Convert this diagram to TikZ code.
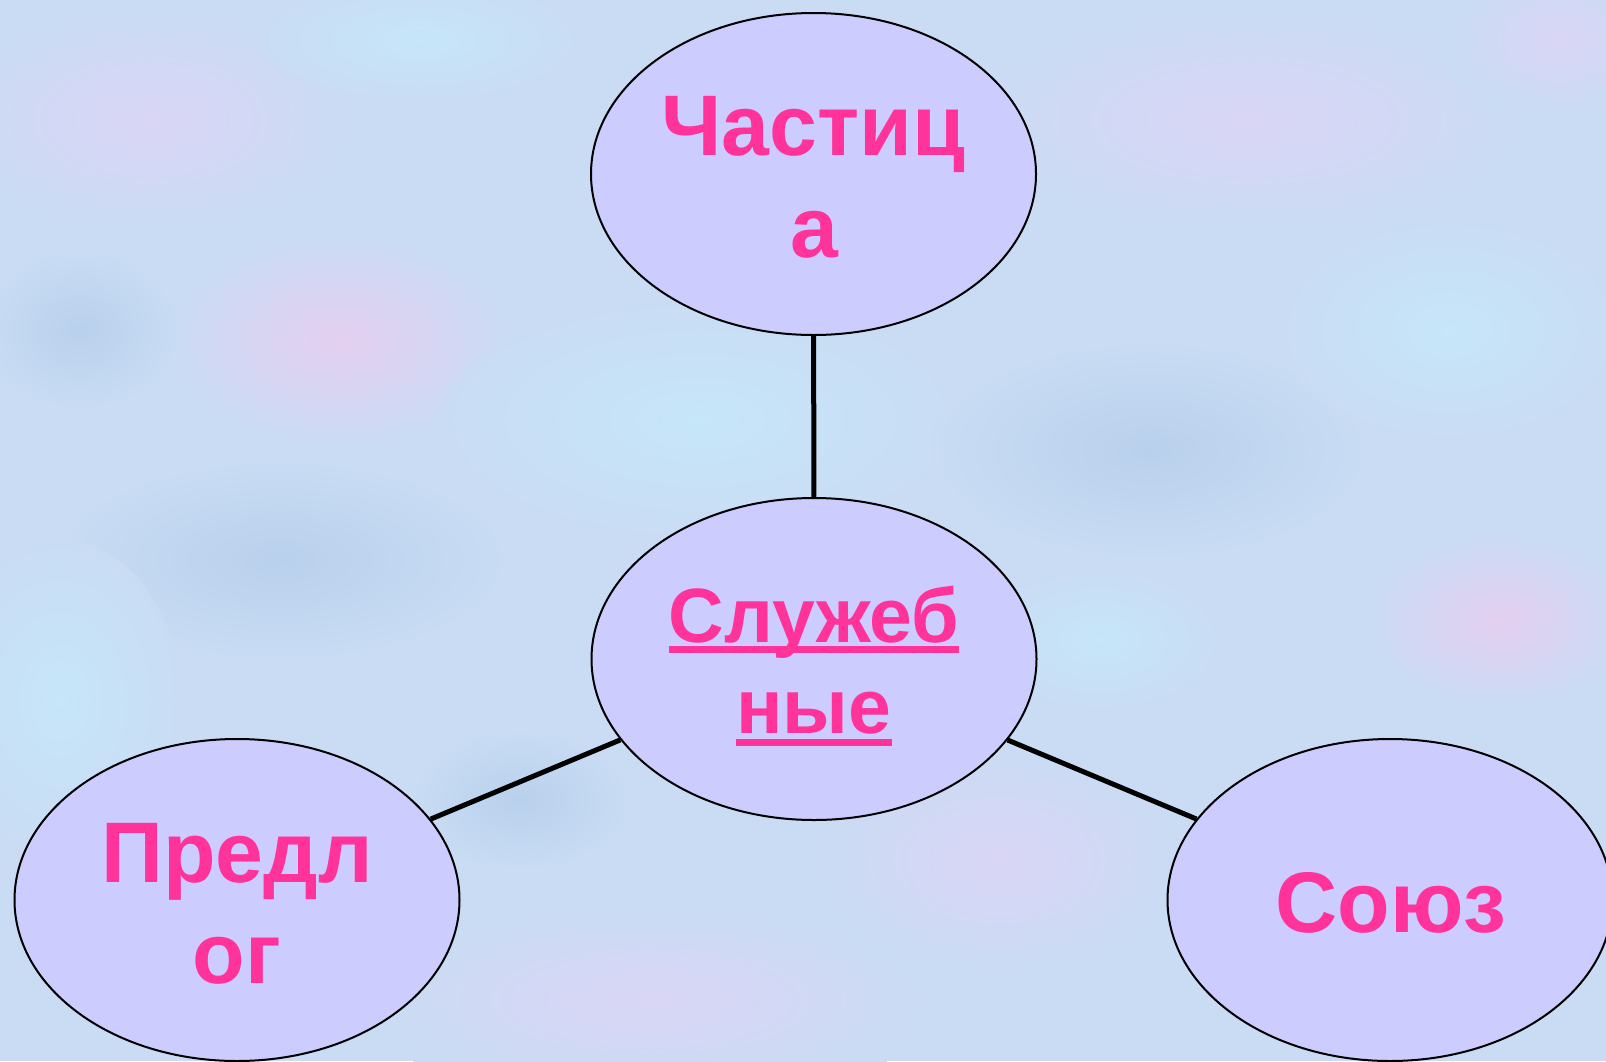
\documentclass[tikz,border=0pt]{standalone}
\usepackage{fontspec}
\setmainfont{Liberation Sans}
\usetikzlibrary{shapes.geometric}
\definecolor{bgbase}{HTML}{C9DCF4}
\definecolor{bglav}{HTML}{D9D5F5}
\definecolor{bgpink}{HTML}{E4CFF1}
\definecolor{bgcyan}{HTML}{C6E6F9}
\definecolor{bgblue}{HTML}{B9D0EC}
\definecolor{ellfill}{HTML}{CCCCFF}
\definecolor{txtpink}{HTML}{FF3399}
\begin{document}
\begin{tikzpicture}[x=1pt,y=-1pt,
  oval/.style={ellipse, draw=black, line width=2pt, fill=ellfill,
    minimum width=445pt, minimum height=322pt, inner sep=0pt},
  lblbig/.style={text=txtpink, font=\bfseries\fontsize{86}{102}\selectfont,
    inner sep=0pt, anchor=base},
  lblsm/.style={text=txtpink, font=\bfseries\fontsize{77}{91}\selectfont,
    inner sep=0pt, anchor=base},
  conn/.style={line width=5pt, draw=black},
  blob/.style={inner color=#1, outer color=bgbase}]
\clip (0,0) rectangle (1606,1061);
\fill[bgbase] (0,0) rectangle (1606,1061);
% mottled background
\shade[blob=bgpink] (340,340) ellipse (180 and 110);
\shade[blob=bglav] (150,120) ellipse (220 and 120);
\shade[blob=bgcyan] (700,420) ellipse (260 and 120);
\shade[blob=bglav] (1250,120) ellipse (300 and 120);
\shade[blob=bgblue] (1150,450) ellipse (220 and 110);
\shade[blob=bgcyan] (1450,330) ellipse (170 and 110);
\shade[blob=bglav] (650,1000) ellipse (300 and 100);
\shade[blob=bgblue] (280,560) ellipse (230 and 100);
\shade[blob=bgcyan] (60,700) ellipse (120 and 160);
\shade[blob=bglav] (1000,860) ellipse (200 and 120);
\shade[blob=bgpink] (1500,620) ellipse (140 and 90);
\shade[blob=bgcyan] (420,40) ellipse (160 and 60);
\shade[blob=bgblue] (80,330) ellipse (100 and 80);
\shade[blob=bglav] (1560,40) ellipse (120 and 80);
\shade[blob=bgcyan] (1100,640) ellipse (120 and 70);
\shade[blob=bgblue] (520,800) ellipse (110 and 70);
% ellipses
\node[oval] (top) at (813.5,174) {};
\node[oval] (mid) at (814,659) {};
\node[oval] (left) at (237,900) {};
\node[oval] (right) at (1390,900) {};
% connectors
\draw[conn] (top) -- (mid);
\draw[conn] (mid) -- (left);
\draw[conn] (mid) -- (right);
% labels
\node[lblbig] (t1) at (813,155) {Частиц};
\node[lblbig] (t2) at (814,257) {а};
\node[lblsm] (s1) at (814,642) {Служеб};
\node[lblsm] (s2) at (814,733) {ные};
\fill[txtpink] ([yshift=-4pt]s1.base west) rectangle ([yshift=-11pt]s1.base east);
\fill[txtpink] ([yshift=-6pt]s2.base west) rectangle ([yshift=-13pt]s2.base east);
\node[lblbig] (p1) at (237,882) {Предл};
\node[lblbig] (p2) at (237,983) {ог};
\node[lblbig] (u1) at (1391,932) {Союз};
\end{tikzpicture}
\end{document}
